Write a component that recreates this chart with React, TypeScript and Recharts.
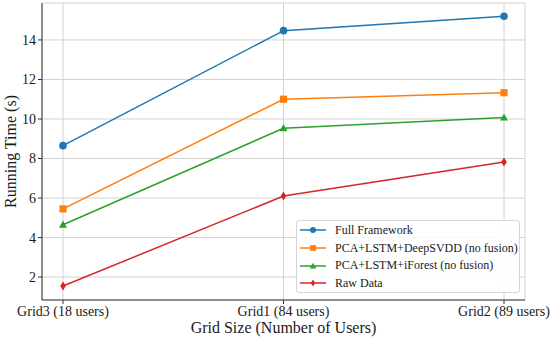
import React from "react";
import { CartesianGrid, Line, LineChart, XAxis, YAxis } from "recharts";

const categories = ["Grid3 (18 users)", "Grid1 (84 users)", "Grid2 (89 users)"];
const fullFramework = [8.65, 14.47, 15.2];
const deepSvdd = [5.45, 11.0, 11.33];
const iForest = [4.65, 9.53, 10.07];
const rawData = [1.55, 6.1, 7.82];
const yTicks = [2, 4, 6, 8, 10, 12, 14];

const data = categories.map((name, i) => ({
  name,
  full: fullFramework[i],
  svdd: deepSvdd[i],
  iforest: iForest[i],
  raw: rawData[i],
}));

const FONT = "'Liberation Serif', 'Times New Roman', serif";
const TEXT = "#1a1a1a";

type Marker = "circle" | "square" | "triangle" | "diamond";

const series: { key: string; name: string; color: string; marker: Marker }[] = [
  { key: "full", name: "Full Framework", color: "#1f77b4", marker: "circle" },
  { key: "svdd", name: "PCA+LSTM+DeepSVDD (no fusion)", color: "#ff7f0e", marker: "square" },
  { key: "iforest", name: "PCA+LSTM+iForest (no fusion)", color: "#2ca02c", marker: "triangle" },
  { key: "raw", name: "Raw Data", color: "#d62728", marker: "diamond" },
];

function markerShape(marker: Marker, cx: number, cy: number, color: string, s = 1, key?: string) {
  if (marker === "circle") return <circle key={key} cx={cx} cy={cy} r={3.8 * s} fill={color} />;
  if (marker === "square")
    return <rect key={key} x={cx - 3.6 * s} y={cy - 3.6 * s} width={7.2 * s} height={7.2 * s} fill={color} />;
  if (marker === "triangle")
    return (
      <polygon
        key={key}
        points={`${cx},${cy - 4.2 * s} ${cx + 4 * s},${cy + 3 * s} ${cx - 4 * s},${cy + 3 * s}`}
        fill={color}
      />
    );
  return (
    <polygon
      key={key}
      points={`${cx},${cy - 4.5 * s} ${cx + 2.8 * s},${cy} ${cx},${cy + 4.5 * s} ${cx - 2.8 * s},${cy}`}
      fill={color}
    />
  );
}

function makeDot(marker: Marker, color: string) {
  return (props: any) => {
    const { cx, cy, index } = props;
    if (cx == null || cy == null) return <g key={index} />;
    return markerShape(marker, cx, cy, color, 1, `m-${index}`);
  };
}

function LegendBox() {
  return (
    <div
      style={{
        position: "absolute",
        left: 296,
        top: 220,
        width: 224,
        height: 73,
        background: "rgba(255,255,255,0.85)",
        border: "1px solid #d6d6d6",
        borderRadius: 3,
        fontFamily: FONT,
        fontSize: 12,
        color: TEXT,
        boxSizing: "border-box",
        paddingTop: 0.5,
      }}
    >
      {series.map((s) => (
        <div key={s.key} style={{ display: "flex", alignItems: "center", height: 17.7 }}>
          <svg width={26} height={12} style={{ marginLeft: 3, flexShrink: 0 }}>
            <line x1={0} y1={6} x2={26} y2={6} stroke={s.color} strokeWidth={1.5} />
            {markerShape(s.marker, 13, 6, s.color, 0.8)}
          </svg>
          <span style={{ marginLeft: 9, whiteSpace: "nowrap" }}>{s.name}</span>
        </div>
      ))}
    </div>
  );
}

const YLabel = (props: any) => {
  const vb = props.viewBox || {};
  const cy = (vb.y ?? 3) + (vb.height ?? 297) / 2;
  return (
    <text x={16} y={cy} transform={`rotate(-90, 16, ${cy})`} textAnchor="middle" fontFamily={FONT} fontSize={16} fill={TEXT}>
      Running Time (s)
    </text>
  );
};

const XLabel = (props: any) => {
  const vb = props.viewBox || {};
  const cx = (vb.x ?? 42) + (vb.width ?? 483) / 2;
  return (
    <text x={cx} y={333} textAnchor="middle" fontFamily={FONT} fontSize={16} fill={TEXT}>
      Grid Size (Number of Users)
    </text>
  );
};

export default function App() {
  return (
    <div style={{ position: "absolute", left: 0, top: 0, width: 550, height: 340, background: "#fff" }}>
      <LineChart width={550} height={340} data={data} margin={{ top: 3, right: 25, bottom: 0, left: 0 }}>
        <CartesianGrid xAxisId="b" yAxisId="l" stroke="#d2d2d2" strokeWidth={1} />
        <XAxis
          dataKey="name"
          xAxisId="b"
          padding={{ left: 21, right: 21 }}
          height={40}
          tickLine={{ stroke: "#333" }}
          tickSize={4}
          axisLine={{ stroke: "#333" }}
          tick={{ fontFamily: FONT, fontSize: 14, fill: TEXT }}
          interval={0}
          label={<XLabel />}
        />
        <XAxis
          dataKey="name"
          xAxisId="t"
          orientation="top"
          height={0}
          tick={false}
          tickLine={false}
          axisLine={{ stroke: "#333" }}
          padding={{ left: 21, right: 21 }}
        />
        <YAxis
          yAxisId="l"
          width={42}
          type="number"
          domain={[0.84, 15.87]}
          ticks={yTicks}
          allowDataOverflow
          tickSize={4}
          tickLine={{ stroke: "#333" }}
          axisLine={{ stroke: "#333" }}
          tick={{ fontFamily: FONT, fontSize: 14, fill: TEXT }}
          label={<YLabel />}
        />
        <YAxis
          yAxisId="r"
          orientation="right"
          width={0}
          tick={false}
          tickLine={false}
          axisLine={{ stroke: "#333" }}
          domain={[0.84, 15.87]}
        />
        {series.map((s) => (
          <Line
            key={s.key}
            xAxisId="b"
            yAxisId="l"
            dataKey={s.key}
            name={s.name}
            stroke={s.color}
            strokeWidth={1.5}
            type="linear"
            dot={makeDot(s.marker, s.color)}
            activeDot={false}
            isAnimationActive={false}
          />
        ))}
      </LineChart>
      <LegendBox />
    </div>
  );
}
